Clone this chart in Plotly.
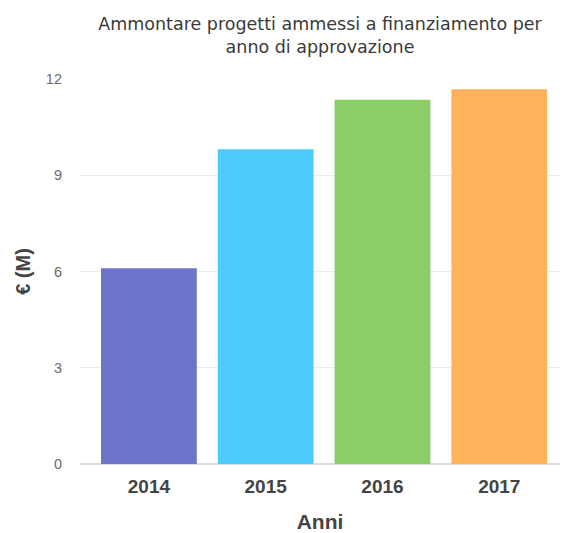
import plotly.graph_objects as go

# Approved funding per year of approval (millions of euro)
anni = ["2014", "2015", "2016", "2017"]
ammontare = [6.10, 9.81, 11.35, 11.68]
colori = ["#6B74C9", "#4CCBFD", "#8BCD66", "#FEB25B"]
y_ticks = [0, 3, 6, 9, 12]

fig = go.Figure(
    go.Bar(
        x=list(range(len(anni))),
        y=ammontare,
        marker=dict(color=colori, line=dict(width=0)),
        width=0.82,
        hoverinfo="skip",
    )
)

fig.update_layout(
    width=563,
    height=533,
    margin=dict(l=80, r=3, t=79, b=69),
    paper_bgcolor="white",
    plot_bgcolor="white",
    font=dict(family="Liberation Sans, Arial, sans-serif"),
    showlegend=False,
    title=dict(
        text="Ammontare progetti ammessi a finanziamento per<br>anno di approvazione",
        x=0.5,
        xref="paper",
        xanchor="center",
        y=0.944,
        yanchor="top",
        font=dict(size=17.5, color="#3a3a3a", family="DejaVu Sans, sans-serif"),
    ),
)

fig.update_xaxes(
    automargin=False,
    tickmode="array",
    tickvals=list(range(len(anni))),
    ticktext=[f"<b>{a}</b>" for a in anni],
    range=[-0.59, 3.52],
    showgrid=False,
    zeroline=False,
    showline=False,
    ticks="",
    tickfont=dict(size=19, color="#444444"),
    ticklabelstandoff=9,
    title=dict(text="<b>Anni</b>", font=dict(size=21, color="#444444"), standoff=20),
)

fig.update_yaxes(
    automargin=False,
    range=[0, 12],
    tickmode="array",
    tickvals=y_ticks,
    showgrid=True,
    gridcolor="#ebebeb",
    gridwidth=1,
    zeroline=True,
    zerolinecolor="#dcdcdc",
    zerolinewidth=2,
    showline=False,
    ticks="",
    ticklabelstandoff=17,
    tickfont=dict(size=14.5, color="#6a6a6a"),
    title=dict(text="<b>€ (M)</b>", font=dict(size=20, color="#444444"), standoff=9),
)

fig.write_html("out.html")
